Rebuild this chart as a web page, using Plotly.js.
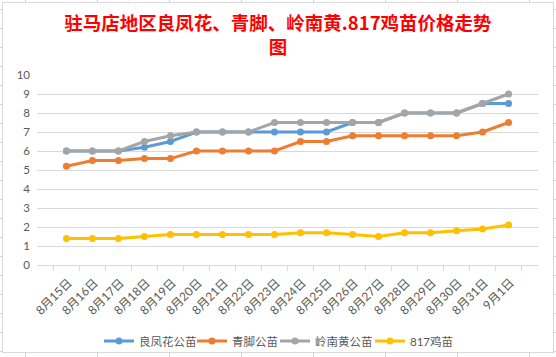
<!DOCTYPE html>
<html>
<head>
<meta charset="utf-8">
<script src="https://cdn.plot.ly/plotly-3.0.1.min.js"></script>
<style>
  html, body { margin: 0; padding: 0; width: 556px; height: 357px; overflow: hidden; }
  body {
    background-color: #ffffff;
    background-image:
      repeating-linear-gradient(to right, transparent 0px, transparent 25px, #d4d4d4 25px, #d4d4d4 26px, transparent 26px, transparent 72px),
      repeating-linear-gradient(to bottom, transparent 0px, transparent 9px, #d4d4d4 9px, #d4d4d4 10px, transparent 10px, transparent 19px);
  }
  #wrap { position: absolute; left: 2px; top: 2px; border: 1px solid #d9d9d9; background: #ffffff; width: 550px; height: 349px; }
  #chart { width: 550px; height: 349px; }
</style>
</head>
<body>
<div id="wrap"><div id="chart"></div></div>
<script>
const dates = ["8月15日","8月16日","8月17日","8月18日","8月19日","8月20日","8月21日","8月22日","8月23日","8月24日","8月25日","8月26日","8月27日","8月28日","8月29日","8月30日","8月31日","9月1日"];
const liangfenghua = [6, 6, 6, 6.2, 6.5, 7, 7, 7, 7, 7, 7, 7.5, 7.5, 8, 8, 8, 8.5, 8.5];
const qingjiao = [5.2, 5.5, 5.5, 5.6, 5.6, 6, 6, 6, 6, 6.5, 6.5, 6.8, 6.8, 6.8, 6.8, 6.8, 7, 7.5];
const lingnanhuang = [6, 6, 6, 6.5, 6.8, 7, 7, 7, 7.5, 7.5, 7.5, 7.5, 7.5, 8, 8, 8, 8.5, 9];
const ji817 = [1.4, 1.4, 1.4, 1.5, 1.6, 1.6, 1.6, 1.6, 1.6, 1.7, 1.7, 1.6, 1.5, 1.7, 1.7, 1.8, 1.9, 2.1];
const seriesNames = ["良凤花公苗", "青脚公苗", "岭南黄公苗", "817鸡苗"];
const titleText = "<b>驻马店地区良凤花、青脚、岭南黄.817鸡苗价格走势<br>图</b>";

const colors = ["#5B9BD5", "#ED7D31", "#A5A5A5", "#FFC000"];
const values = [liangfenghua, qingjiao, lingnanhuang, ji817];
const legendIds = ["legend", "legend2", "legend3", "legend4"];
const legendLeft = [96, 189, 272, 367];
const fontFam = "Lato, 'Noto Sans CJK SC', sans-serif";

const traces = values.map((v, i) => ({
  type: "scatter",
  mode: "lines+markers",
  x: dates,
  y: v,
  name: seriesNames[i],
  legend: legendIds[i],
  line: { color: colors[i], width: 3 },
  marker: { color: colors[i], size: 7, symbol: "circle" }
}));

const W = 550, H = 349;
const layout = {
  width: W,
  height: H,
  margin: { l: 34, r: 15, t: 72, b: 87 },
  paper_bgcolor: "#ffffff",
  plot_bgcolor: "#ffffff",
  showlegend: true,
  title: {
    text: titleText,
    font: { family: "'Noto Sans CJK SC', sans-serif", size: 18.5, color: "#FF0000" },
    x: 0.5, xref: "container", xanchor: "center",
    y: 0.923, yref: "container", yanchor: "top"
  },
  xaxis: {
    type: "category",
    showgrid: false,
    showline: true,
    linecolor: "#d9d9d9",
    linewidth: 1,
    ticks: "outside",
    tickson: "boundaries",
    ticklen: 5,
    tickcolor: "#d9d9d9",
    tickangle: -45,
    ticklabelstandoff: 5,
    ticklabelshift: 2,
    tickfont: { family: fontFam, size: 12, color: "#595959" },
    zeroline: false,
    fixedrange: true
  },
  yaxis: {
    range: [0, 10],
    dtick: 1,
    showgrid: true,
    gridcolor: "#d9d9d9",
    gridwidth: 1,
    zeroline: false,
    showline: false,
    ticks: "",
    ticklabelstandoff: 6,
    tickfont: { family: fontFam, size: 11.5, color: "#595959" },
    fixedrange: true
  }
};

legendIds.forEach((id, i) => {
  layout[id] = {
    orientation: "h",
    x: legendLeft[i] / W, xref: "container", xanchor: "left",
    y: 11 / H, yref: "container", yanchor: "middle",
    font: { family: fontFam, size: 11.5, color: "#595959" },
    itemwidth: 30,
    bgcolor: "rgba(0,0,0,0)",
    borderwidth: 0
  };
});

Plotly.newPlot("chart", traces, layout, { displayModeBar: false, staticPlot: true });
</script>
</body>
</html>
